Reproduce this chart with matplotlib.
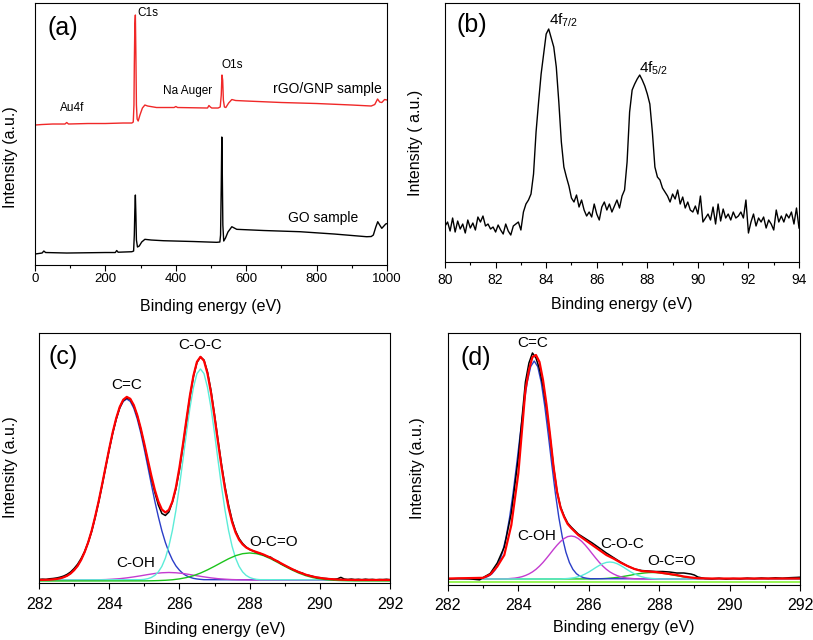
import numpy as np
import matplotlib
matplotlib.use("Agg")
from matplotlib import pyplot as plt
from matplotlib.ticker import MultipleLocator

plt.rcParams["font.family"] = ["Liberation Sans", "DejaVu Sans"]
plt.rcParams["mathtext.fontset"] = "custom"
plt.rcParams["mathtext.rm"] = "Liberation Sans"
plt.rcParams["mathtext.it"] = "Liberation Sans:italic"

##########################
# (a) survey spectra     #
##########################
rgo_ev = [0, 20, 50, 85, 90, 95, 150, 200, 250, 275, 279, 281, 282, 283.5, 285,
          286.5, 288, 290, 293, 298, 305, 312, 320, 345, 395, 400, 405, 490, 494,
          498, 502, 520, 526, 529, 531, 533, 535, 538, 542, 550, 559, 570, 600,
          700, 800, 900, 955, 965, 973, 979, 985, 993, 1000]
rgo_int = [140, 140.5, 141, 141, 142.5, 141, 141.5, 141.5, 142, 142, 143, 160, 200,
           240, 250, 210, 160, 146, 144, 150, 157, 160, 159, 157.5, 157.5, 158.5,
           157.5, 157, 159.5, 158, 157, 157, 158, 170, 190, 185, 165, 158, 157.5,
           162, 165.5, 164.5, 164, 162.5, 161.5, 160, 159, 160.5, 166, 163, 162.5,
           165.5, 165]
go_ev = [0, 20, 25, 30, 90, 200, 228, 232, 236, 275, 280, 282, 283.5, 285, 286.5,
         288, 291, 296, 303, 312, 330, 365, 450, 516, 525, 527, 529, 530.5, 532,
         533.5, 536, 541, 548, 559, 573, 650, 753, 850, 942, 955, 961, 968, 973.5,
         979, 985, 991, 996, 1000]
go_int = [11, 12, 14, 12.5, 12, 12.5, 12.5, 14.5, 12.8, 13.3, 14, 30, 55, 70, 50,
          25, 18, 19, 23, 25.7, 25, 24.3, 23.5, 22.7, 23, 30, 80, 128, 90, 40, 24,
          27, 33, 38.3, 35.7, 34.5, 33.3, 31, 28.3, 28.5, 30, 38, 43.3, 40, 36.7,
          39, 41, 41.5]

##########################
# (b) Au 4f              #
##########################
au_start, au_step = 80.0, 0.1
au_int = [36, 40, 31, 44, 30, 41, 33, 38, 29, 42,
          34, 39, 32, 45, 40, 46, 36, 38, 33, 35,
          30, 37, 32, 28, 38, 31, 27, 36, 38, 40,
          32, 50, 58, 62, 68, 88, 130, 160, 188, 208,
          228, 233, 224, 215, 195, 160, 120, 95, 85, 76,
          64, 60, 67, 55, 62, 52, 46, 50, 45, 58,
          48, 42, 55, 60, 52, 58, 50, 56, 62, 54,
          66, 72, 100, 150, 172, 178, 183, 187, 182, 176,
          168, 158, 130, 95, 85, 82, 74, 70, 66, 60,
          68, 63, 72, 58, 65, 54, 60, 52, 50, 56,
          48, 66, 40, 44, 48, 42, 55, 38, 58, 41,
          53, 44, 48, 42, 50, 44, 46, 50, 44, 62,
          29, 40, 48, 36, 44, 40, 45, 34, 42, 38,
          32, 52, 40, 46, 40, 48, 44, 50, 38, 54,
          34]

##########################
# (c) C1s, GO            #
##########################
c_start, c_step = 282.0, 0.1
c_data = [3.5, 3.8, 3.6, 4.2, 4.5, 5.0, 5.8, 6.9, 8.6, 11.0,
          14.5, 18.8, 24.5, 31.5, 40.5, 51.5, 65.5, 81.0, 98.0, 116.0,
          133.5, 150.0, 164.0, 175.5, 182.5, 185.0, 183.5, 177.0, 167.0, 153.5,
          138.0, 121.5, 105.0, 90.5, 78.0, 69.5, 67.5, 71.0, 81.0, 94.0,
          113.0, 137.0, 162.0, 186.5, 206.5, 220.5, 226.0, 223.0, 211.0, 192.5,
          168.5, 143.0, 118.5, 96.5, 78.0, 63.0, 52.0, 44.5, 39.5, 36.0,
          33.5, 32.0, 30.5, 29.5, 28.0, 26.5, 25.8, 23.0, 21.8, 19.2,
          17.5, 15.9, 13.8, 12.6, 10.8, 9.9, 8.1, 7.5, 6.6, 5.5,
          5.3, 4.6, 4.4, 4.0, 3.6, 4.1, 5.6, 3.9, 3.5, 3.9,
          3.4, 3.7, 3.3, 3.8, 3.4, 3.6, 3.2, 3.5, 3.4, 3.7,
          3.3]
c_fit = [3.1, 3.1, 3.2, 3.3, 3.6, 4.0, 4.6, 5.7, 7.2, 9.5,
         12.8, 17.1, 23.1, 30.9, 40.6, 52.3, 66.4, 81.9, 99.0, 116.7,
         134.3, 150.8, 164.9, 176.1, 183.3, 186.1, 184.2, 177.9, 167.7, 154.5,
         139.2, 123.1, 107.3, 93.0, 81.5, 73.5, 70.5, 73.1, 81.3, 95.5,
         115.3, 138.5, 163.5, 187.6, 207.4, 221.2, 226.2, 222.2, 209.5, 190.2,
         166.3, 140.7, 116.0, 93.8, 75.4, 61.0, 50.5, 43.2, 38.6, 35.5,
         33.6, 32.1, 30.9, 29.7, 28.4, 26.8, 25.2, 23.4, 21.5, 19.6,
         17.7, 15.8, 14.1, 12.4, 10.9, 9.6, 8.3, 7.3, 6.4, 5.7,
         5.1, 4.6, 4.2, 3.9, 3.7, 3.5, 3.3, 3.2, 3.1, 3.1,
         3.0, 3.0, 3.0, 3.0, 3.0, 3.0, 3.0, 3.0, 3.0, 3.0,
         3.0]
c_cc_start = 282.3
c_cc = [3.3, 3.6, 4.0, 4.6, 5.7, 7.2, 9.5, 12.8, 17.1, 23.1, 30.9, 40.5, 52.2,
        66.2, 81.7, 98.7, 116.3, 133.7, 150.0, 163.9, 174.8, 181.6, 184.0, 181.6,
        174.8, 163.9, 150.0, 133.7, 116.3, 98.7, 81.7, 66.2, 52.2, 40.5, 30.9,
        23.1, 17.1, 12.8, 9.5, 7.2, 5.7, 4.6, 4.0, 3.6, 3.3]
c_coc_start = 284.9
c_coc = [3.3, 3.6, 4.3, 5.5, 7.6, 11.1, 16.6, 24.9, 36.8, 52.6, 72.6, 96.5, 122.8,
         149.9, 175.2, 195.6, 209.4, 214.0, 209.4, 195.6, 175.2, 149.9, 122.8,
         96.5, 72.6, 52.6, 36.8, 24.9, 16.6, 11.1, 7.6, 5.5, 4.3, 3.6, 3.3]
c_coh_start = 283.3
c_coh = [3.0, 3.1, 3.2, 3.4, 3.8, 4.3, 5.1, 6.1, 7.2, 8.4, 9.5, 10.2, 10.5, 10.2,
         9.5, 8.4, 7.2, 6.1, 5.1, 4.3, 3.8, 3.4, 3.2, 3.1, 3.0]
c_oco_start = 285.0
c_oco = [2.1, 2.2, 2.4, 2.7, 3.2, 4.1, 5.4, 7.3, 9.9, 13.1, 16.7, 20.5, 24.2, 27.3,
         29.3, 30.0, 29.3, 27.3, 24.2, 20.5, 16.7, 13.1, 9.9, 7.3, 5.4, 4.1, 3.2,
         2.7, 2.4, 2.2, 2.1]

##########################
# (d) C1s, rGO/GNP       #
##########################
d_data_ev = [282.0, 282.3, 282.6, 282.9, 283.0, 283.2, 283.4, 283.6, 283.8, 284.0,
             284.2, 284.3, 284.4, 284.5, 284.6, 284.7, 284.8, 284.9, 285.0, 285.1,
             285.2, 285.3, 285.4, 285.5, 285.7, 285.9, 286.1, 286.3, 286.5, 286.7,
             286.9, 287.1, 287.3, 287.5, 287.7, 287.9, 288.1, 288.3, 288.5, 288.7,
             288.9, 289.0, 289.1, 289.3, 289.5, 289.7, 289.9, 290.1, 290.3, 290.5,
             290.7, 290.9, 291.1, 291.3, 291.5, 291.7, 291.9, 292.0]
d_data = [6.0, 6.5, 6.2, 5.2, 7.5, 11.5, 22, 38, 72, 128,
          203, 222, 232, 227, 216, 199, 176, 148, 118, 93,
          78, 69, 62, 58, 51, 46.5, 42, 37, 32, 27.5,
          23, 19, 16, 14.5, 14, 13.5, 13.5, 13, 12, 12,
          11, 10, 8, 6.5, 6.2, 6.8, 6.0, 6.5, 6.2, 6.9,
          6.4, 7.0, 6.6, 7.2, 6.8, 7.3, 7.6, 7.8]
d_fit_ev = [282.0, 283.0, 283.2, 283.4, 283.6, 283.8, 284.0, 284.2, 284.3, 284.4,
            284.5, 284.6, 284.7, 284.8, 284.9, 285.0, 285.1, 285.2, 285.3, 285.4,
            285.5, 285.7, 285.9, 286.1, 286.3, 286.5, 286.7, 286.9, 287.1, 287.3,
            287.5, 287.7, 287.9, 288.1, 288.3, 288.5, 288.7, 288.9, 289.1, 289.5,
            292.0]
d_fit = [6.5, 7.2, 10.5, 18.5, 30, 60, 112, 195, 215, 228,
         230, 223, 205, 180, 150, 118, 93, 77, 68, 61,
         57, 50, 45, 40, 35, 30, 26.5, 22.5, 19, 16,
         14, 13.5, 13, 12, 11, 10, 8.5, 7.5, 6.8, 6.5,
         6.5]
d_cc_start = 282.85
d_cc = [6.3, 6.7, 7.4, 8.8, 11.3, 15.6, 22.5, 32.9, 47.7, 67.5, 92.0, 120.3, 150.2,
        178.8, 202.6, 218.4, 224.0, 218.4, 202.6, 178.8, 150.2, 120.3, 92.0, 67.5,
        47.7, 32.9, 22.5, 15.6, 11.3, 8.8, 7.4, 6.7, 6.3]
d_coh_start = 283.5
d_coh = [6.1, 6.2, 6.3, 6.6, 6.9, 7.5, 8.3, 9.5, 11.1, 13.1, 15.7, 18.9, 22.6, 26.8,
         31.2, 35.7, 39.9, 43.6, 46.5, 48.4, 49.0, 48.4, 46.5, 43.6, 39.9, 35.7,
         31.2, 26.8, 22.6, 18.9, 15.7, 13.1, 11.1, 9.5, 8.3, 7.5, 6.9, 6.6, 6.3,
         6.2, 6.1]
d_coc_start = 285.2
d_coc = [6.1, 6.3, 6.5, 6.9, 7.4, 8.3, 9.5, 11.1, 13.0, 15.2, 17.5, 19.6, 21.4, 22.6,
         23.0, 22.6, 21.4, 19.6, 17.5, 15.2, 13.0, 11.1, 9.5, 8.3, 7.4, 6.9, 6.5,
         6.3, 6.1]
d_oco_start = 286.1
d_oco = [6.1, 6.2, 6.3, 6.4, 6.6, 6.9, 7.2, 7.6, 8.1, 8.7, 9.3, 9.9, 10.6, 11.2,
         11.7, 12.1, 12.4, 12.5, 12.4, 12.1, 11.7, 11.2, 10.6, 9.9, 9.3, 8.7, 8.1,
         7.6, 7.2, 6.9, 6.6, 6.4, 6.3, 6.2, 6.1]
d_lime = 3.0

BLUE = "#2b3ec8"
MAGENTA = "#c43cd0"
CYAN = "#5cecd8"
GREEN = "#1cc41c"
LIME = "#86f23a"


def grid(start, step, n):
    return start + step * np.arange(n)


def padded(start, step, ys, base, lo=282.0, hi=292.0):
    # component curves run along the baseline over the whole window
    xs = grid(start, step, len(ys))
    return np.r_[lo, xs, hi], np.r_[base, ys, base]


def frame(ax, xlim, ylim, major, minor, tick_size, tick_pad, ylabel, label_pos):
    ax.set_xlim(xlim)
    ax.set_ylim(ylim)
    ax.xaxis.set_major_locator(MultipleLocator(major))
    ax.xaxis.set_minor_locator(MultipleLocator(minor))
    ax.tick_params(axis="x", which="both", direction="out", top=False,
                   width=0.8, labelsize=tick_size, pad=tick_pad)
    ax.tick_params(axis="x", which="major", length=4)
    ax.tick_params(axis="x", which="minor", length=2.5)
    ax.set_yticks([])
    for s in ax.spines.values():
        s.set_linewidth(0.8)
    ax.set_xlabel("Binding energy (eV)", fontsize=11.5)
    ax.set_ylabel(ylabel, fontsize=11.5)
    (yx, yy), xy = label_pos
    ax.yaxis.set_label_coords(yx, yy)
    ax.xaxis.set_label_coords(0.5, xy)


def main():
    fig = plt.figure(figsize=(8.13, 6.4), dpi=100)
    ax_a = fig.add_axes([0.0431, 0.5859, 0.4330, 0.4094])
    ax_b = fig.add_axes([0.5474, 0.5906, 0.4354, 0.4047])
    ax_c = fig.add_axes([0.0480, 0.0891, 0.4317, 0.3906])
    ax_d = fig.add_axes([0.5510, 0.0859, 0.4330, 0.3938])

    # (a)
    ax_a.plot(go_ev, go_int, color="black", lw=1.0)
    ax_a.plot(rgo_ev, rgo_int, color="#f02828", lw=1.0)
    frame(ax_a, (0, 1000), (0, 262), 200, 100, 9.5, 2, "Intensity (a.u.)",
          ((-0.048, 0.41), -0.13))
    ax_a.text(80, 237, "(a)", fontsize=18, ha="center", va="center")
    ax_a.text(292, 252, "C1s", fontsize=8.5, ha="left", va="center")
    ax_a.text(105, 157, "Au4f", fontsize=8.5, ha="center", va="center")
    ax_a.text(432, 174, "Na Auger", fontsize=8.5, ha="center", va="center")
    ax_a.text(560, 200, "O1s", fontsize=8.5, ha="center", va="center")
    ax_a.text(830, 176, "rGO/GNP sample", fontsize=10, ha="center", va="center")
    ax_a.text(818, 47, "GO sample", fontsize=10, ha="center", va="center")

    # (b)
    ax_b.plot(grid(au_start, au_step, len(au_int)), au_int, color="black", lw=1.0)
    frame(ax_b, (80, 94), (0, 259), 2, 1, 10, 4, "Intensity ( a.u.)",
          ((-0.062, 0.46), -0.135))
    ax_b.text(81.07, 237, "(b)", fontsize=18, ha="center", va="center")
    ax_b.text(84.1, 242, r"4f$_{\mathregular{7/2}}$", fontsize=11, ha="left", va="center")
    ax_b.text(87.68, 194, r"4f$_{\mathregular{5/2}}$", fontsize=11, ha="left", va="center")

    # (c)
    ax_c.plot(*padded(c_cc_start, 0.1, c_cc, 3.0), color=BLUE, lw=1.0)
    ax_c.plot(*padded(c_coh_start, 0.2, c_coh, 3.0), color=MAGENTA, lw=1.0)
    ax_c.plot(*padded(c_coc_start, 0.1, c_coc, 3.0), color=CYAN, lw=1.0)
    ax_c.plot(*padded(c_oco_start, 0.2, c_oco, 2.0), color=GREEN, lw=1.0)
    ax_c.plot(grid(c_start, c_step, len(c_data)), c_data, color="black", lw=1.1)
    ax_c.plot(grid(c_start, c_step, len(c_fit)), c_fit, color="red", lw=1.6)
    frame(ax_c, (282, 292), (0, 250), 2, 1, 11.5, 6, "Intensity (a.u.)",
          ((-0.060, 0.464), -0.155))
    ax_c.text(282.68, 226, "(c)", fontsize=18, ha="center", va="center")
    ax_c.text(284.5, 198, "C=C", fontsize=11, ha="center", va="center")
    ax_c.text(286.59, 238, "C-O-C", fontsize=11, ha="center", va="center")
    ax_c.text(288.67, 41, "O-C=O", fontsize=11, ha="center", va="center")
    ax_c.text(284.74, 20, "C-OH", fontsize=11, ha="center", va="center")

    # (d)
    ax_d.plot([282, 292], [d_lime, d_lime], color=LIME, lw=1.2)
    ax_d.plot(*padded(d_oco_start, 0.1, d_oco, 6.0), color=GREEN, lw=1.0)
    ax_d.plot(*padded(d_cc_start, 0.1, d_cc, 6.0), color=BLUE, lw=1.0)
    ax_d.plot(*padded(d_coh_start, 0.1, d_coh, 6.0), color=MAGENTA, lw=1.0)
    ax_d.plot(*padded(d_coc_start, 0.1, d_coc, 6.0), color=CYAN, lw=1.0)
    ax_d.plot(d_data_ev, d_data, color="black", lw=1.1)
    ax_d.plot(d_fit_ev, d_fit, color="red", lw=1.6)
    frame(ax_d, (282, 292), (0, 252), 2, 1, 11.5, 5, "Intensity (a.u.)",
          ((-0.065, 0.464), -0.14))
    ax_d.text(282.8, 227, "(d)", fontsize=18, ha="center", va="center")
    ax_d.text(284.41, 242, "C=C", fontsize=11, ha="center", va="center")
    ax_d.text(284.53, 49, "C-OH", fontsize=11, ha="center", va="center")
    ax_d.text(286.94, 41, "C-O-C", fontsize=11, ha="center", va="center")
    ax_d.text(288.36, 24, "O-C=O", fontsize=11, ha="center", va="center")

    fig.savefig("out.png", dpi=100)


if __name__ == "__main__":
    main()
